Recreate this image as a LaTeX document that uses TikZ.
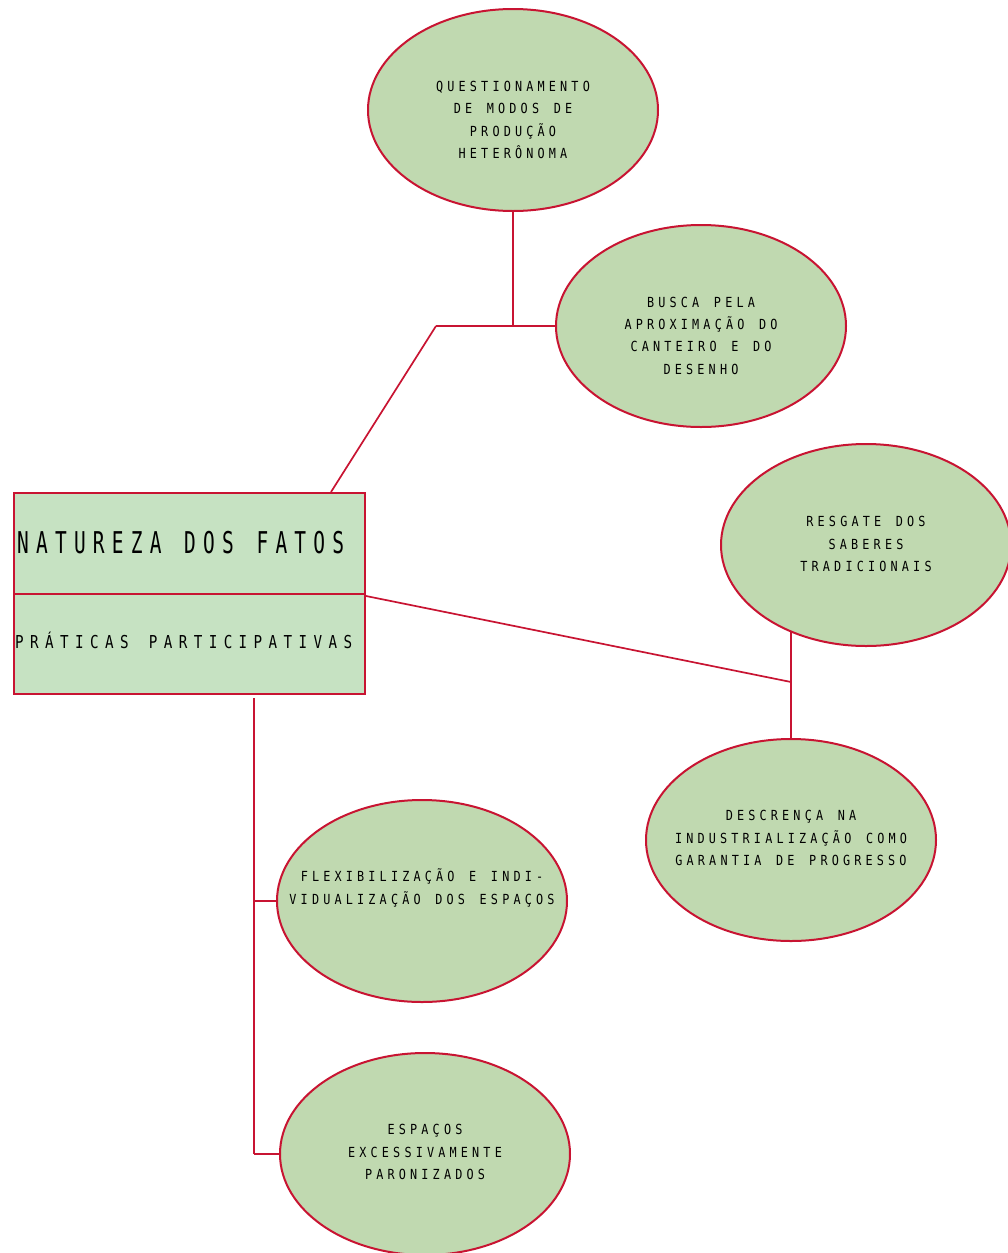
\documentclass[tikz,border=0pt]{standalone}
\usepackage{fontspec}
\usetikzlibrary{backgrounds,calc}
\newfontfamily\smallmono[FakeStretch=0.85,LetterSpace=30,WordSpace=1.3]{DejaVu Sans Mono}
\newfontfamily\titlemono[FakeStretch=0.65,LetterSpace=24,WordSpace=1.2]{DejaVu Sans Mono}
\newfontfamily\submono[FakeStretch=0.8,LetterSpace=36,WordSpace=1.35]{DejaVu Sans Mono}
\definecolor{ellfill}{RGB}{192,217,176}
\definecolor{boxfill}{RGB}{198,226,194}
\definecolor{linered}{RGB}{200,20,50}
\tikzset{
  ell/.style={ellipse, draw=linered, line width=2pt, fill=ellfill, minimum width=290pt, minimum height=202pt, inner sep=0pt},
  boxpart/.style={rectangle, draw=linered, line width=2pt, fill=boxfill, minimum width=351pt, inner sep=0pt},
  etext/.style={align=center, inner sep=0pt, font=\smallmono\fontsize{13.9}{22.3}\selectfont},
  conn/.style={draw=linered, line width=1.7pt},
}
\usetikzlibrary{shapes.geometric}
\begin{document}
\begin{tikzpicture}[x=1pt,y=-1pt]
\useasboundingbox (0,0) rectangle (1008,1253);
% ellipses
\node[ell] (q) at (513,110) {};
\node[ell] (b) at (701,326) {};
\node[ell] (r) at (866,545) {};
\node[ell] (d) at (791,840) {};
\node[ell] (f) at (422,901) {};
\node[ell] (s) at (425,1154) {};
% texts
\node[etext] (qt) at (513,120) {QUESTIONAMENTO\\DE MODOS DE\\PRODUÇÃO\\HETERÔNOMA};
\node[etext] (bt) at (701,335.5) {BUSCA PELA\\APROXIMAÇÃO DO\\CANTEIRO E DO\\DESENHO};
\node[etext] (rt) at (866,544) {RESGATE DOS\\SABERES\\TRADICIONAIS};
\node[etext] (dt) at (791,838) {DESCRENÇA NA\\INDUSTRIALIZAÇÃO COMO\\GARANTIA DE PROGRESSO};
\node[etext] (ft) at (422,888) {FLEXIBILIZAÇÃO E INDI-\\VIDUALIZAÇÃO DOS ESPAÇOS};
\node[etext] (st) at (425,1152) {ESPAÇOS\\EXCESSIVAMENTE\\PARONIZADOS};
% box
\node[boxpart, minimum height=101pt] (top) at (189.5,543.5) {};
\node[boxpart, minimum height=100pt] (bot) at (189.5,644) {};
\node[anchor=west, inner sep=0pt, font=\titlemono\fontsize{30}{36}\selectfont] (tt) at (17,543) {NATUREZA DOS FATOS};
\node[anchor=west, inner sep=0pt, font=\submono\fontsize{17.8}{22}\selectfont] (pt) at (15,640) {PRÁTICAS PARTICIPATIVAS};
% connectors
\coordinate (j1) at (436,326);
\coordinate (j2) at (791,682);
\coordinate (v0) at (254,698);
\begin{scope}[on background layer]
\draw[conn] (q.south) -- (q.south |- b.west);
\draw[conn] (j1) -- (b.west);
\draw[conn] (j1) -- ($(top.north west)+(318,0)$);
\draw[conn] ($(bot.north east)+(0,3)$) -- (j2);
\draw[conn] (d.north) -- (d.north |- r.center);
\draw[conn] (v0) -- (v0 |- s.west);
\draw[conn] (v0 |- f.west) -- (f.west);
\draw[conn] (v0 |- s.west) -- (s.west);
\end{scope}
\end{tikzpicture}
\end{document}
